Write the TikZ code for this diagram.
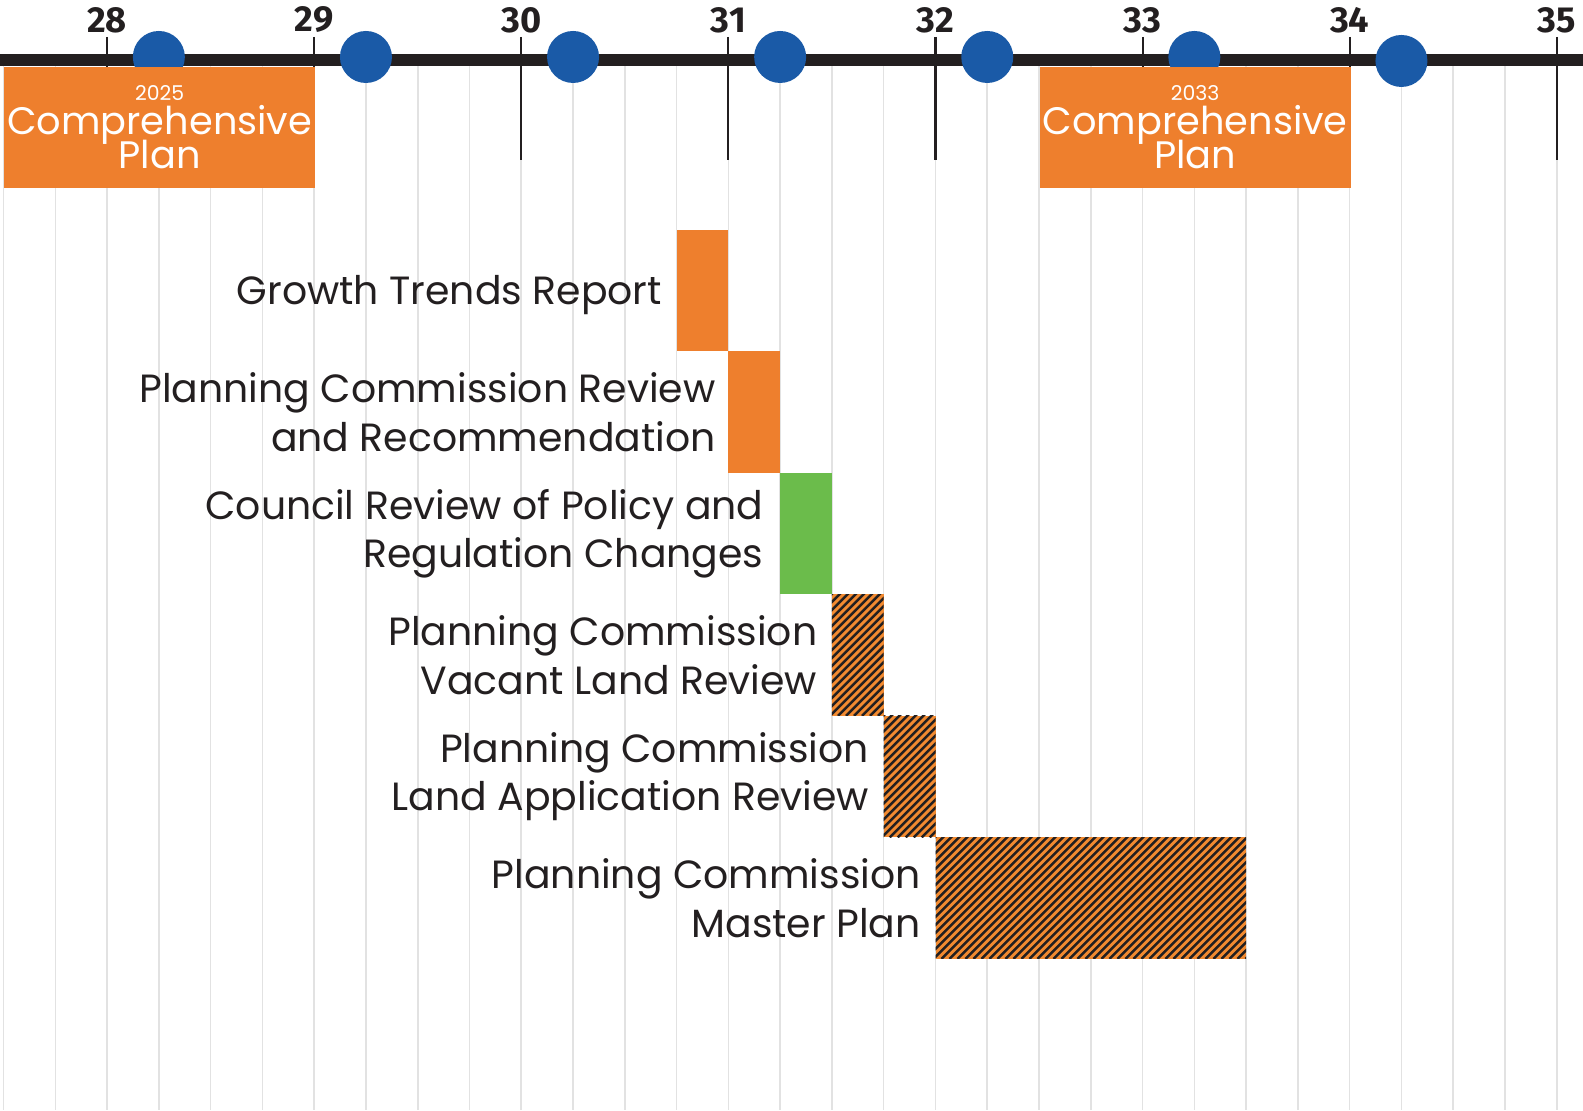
\documentclass[tikz,border=0pt]{standalone}
\usepackage{fontspec}
\setmainfont{Poppins}
\newfontfamily\yearfont{Fira Sans}
\usepackage{xcolor}
\usepackage{tikz}
\usetikzlibrary{positioning,calc}

\definecolor{inkdark}{HTML}{231F20}
\definecolor{gridgray}{HTML}{E2E2E2}
\definecolor{planorange}{HTML}{EE7F2D}
\definecolor{hatchorange}{HTML}{F28A30}
\definecolor{revgreen}{HTML}{6BBC4B}
\definecolor{dotblue}{HTML}{1A5AA7}

\newcommand\tightlines{\lineskiplimit=-20pt\relax}

\begin{document}
\begin{tikzpicture}[
  x=2.071cm, y=-0.01cm,
  gridln/.style={draw=gridgray, line width=0.45pt},
  yeartick/.style={draw=inkdark, line width=0.6pt},
  timebar/.style={draw=inkdark, line width=3.4pt},
  qdot/.style={circle, fill=dotblue, minimum size=0.52cm, inner sep=0pt},
  yearlbl/.style={font=\yearfont\bfseries\fontsize{10.3}{12}\selectfont, text=inkdark},
  planbox/.style={fill=planorange, anchor=north west, minimum width=3.11cm, minimum height=1.21cm,
    inner sep=0pt, align=center, text=white, font=\fontsize{10.9}{9.8}\selectfont\tightlines},
  taskbar/.style={fill=planorange, anchor=north west, minimum width=0.5178cm, minimum height=1.215cm,
    inner sep=0pt, outer sep=0pt},
  greenbar/.style={taskbar, fill=revgreen},
  hatchln/.style={draw=inkdark, line width=0.7pt},
  hatchbar/.style={taskbar, fill=hatchorange, path picture={
    \foreach \k in {0,...,56}
      \draw[hatchln] ([xshift=\k*0.08cm-1.3cm]path picture bounding box.south west) -- ++(1.4cm,1.4cm);}},
  tasklbl/.style={align=right, text=inkdark, font=\fontsize{11.2}{13.8}\selectfont, inner sep=0pt},
]

\fill[white] (27.4833,0) rectangle (35.1271,1111);
\useasboundingbox (27.4833,0) rectangle (35.1271,1111);

% quarter grid
\foreach \q in {27.5,27.75,...,35.01}
  \draw[gridln] (\q,66) -- (\q,1111);

% years
\foreach \yr in {28,...,35} {
  \draw[yeartick] (\yr,37) -- (\yr,160);
  \node[yearlbl] (y\yr) at (\yr,20) {\yr};
}
\draw[timebar] (27.4,60) -- (35.2,60);

\foreach \yr in {28,...,33}
  \node[qdot] (d\yr) at (\yr+0.25,57) {};
\node[qdot] (d34) at (34.25,61) {};

\node[planbox] (plan25) at (27.5,66) {{\fontsize{5.8}{9.8}\selectfont 2025}\\Comprehensive\\Plan};
\node[planbox] (plan33) at (32.5,66) {{\fontsize{5.8}{9.8}\selectfont 2033}\\Comprehensive\\Plan};

% tasks
\node[taskbar] (gtr) at (30.75,230) {};
\node[taskbar] (pcr) at (gtr.south east) {};
\node[greenbar] (crp) at (pcr.south east) {};
\node[hatchbar] (pcv) at (crp.south east) {};
\node[hatchbar] (pcl) at (pcv.south east) {};
\node[hatchbar, minimum width=3.1065cm] (pcm) at (pcl.south east) {};

\node[tasklbl, left=0.14cm of gtr, yshift=-0.04cm] (gtrlbl) {Growth Trends Report};
\node[tasklbl, left=0.12cm of pcr] (pcrlbl) {Planning Commission Review\\and Recommendation};
\node[tasklbl, left=0.16cm of crp] (crplbl) {Council Review of Policy and\\Regulation Changes};
\node[tasklbl, left=0.14cm of pcv] (pcvlbl) {Planning Commission\\Vacant Land Review};
\node[tasklbl, left=0.14cm of pcl] (pcllbl) {Planning Commission\\Land Application Review};
\node[tasklbl, left=0.14cm of pcm] (pcmlbl) {Planning Commission\\Master Plan};

\end{tikzpicture}
\end{document}
